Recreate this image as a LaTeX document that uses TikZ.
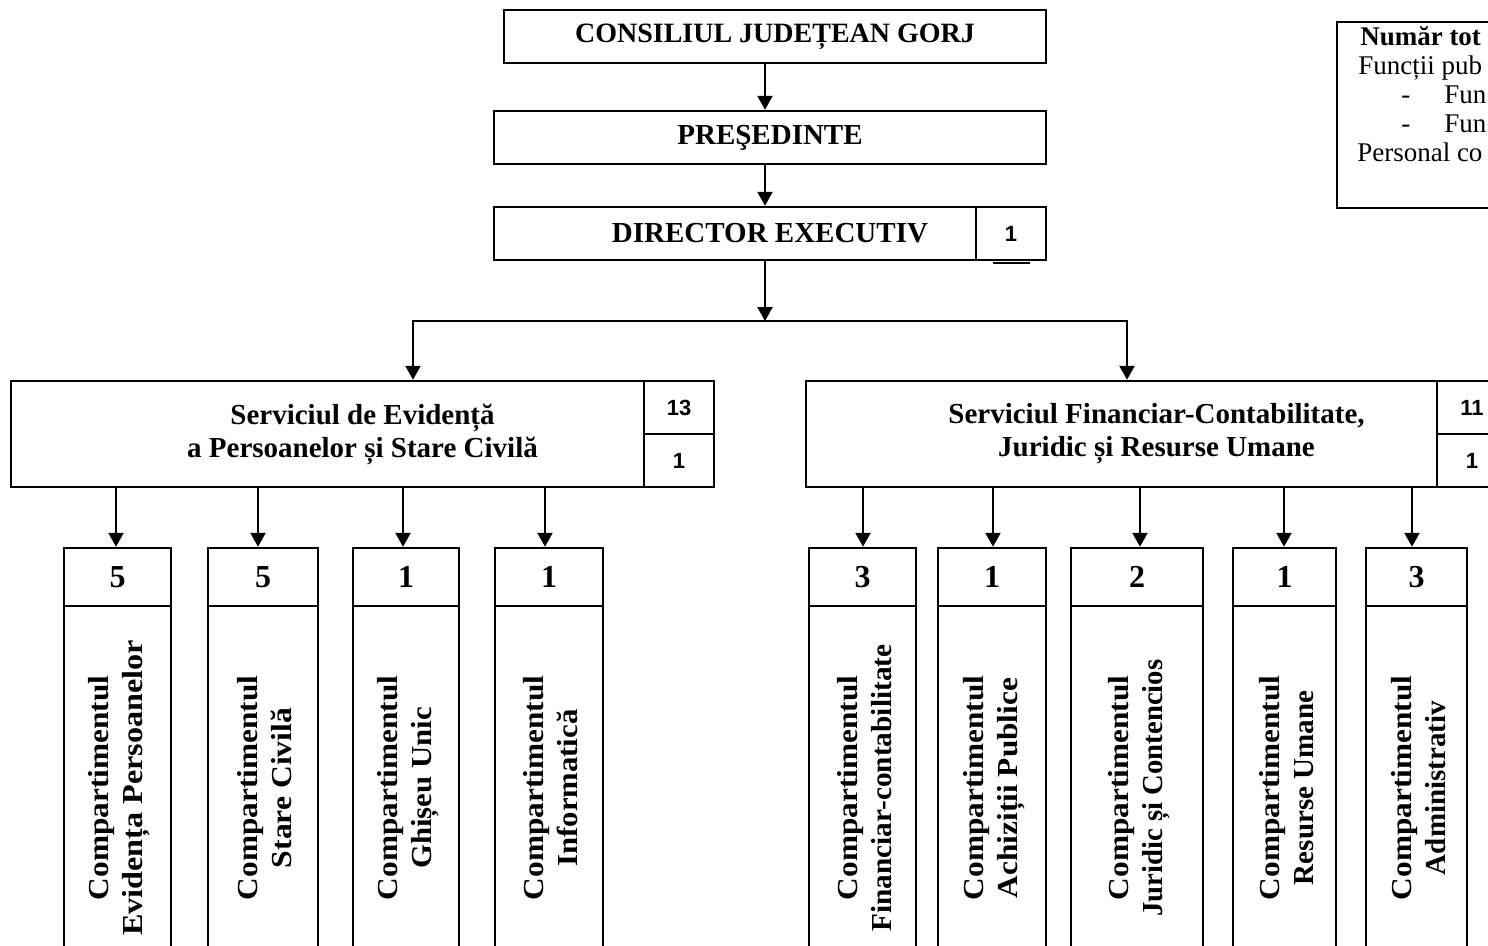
\documentclass[tikz,border=0pt]{standalone}
\usepackage{fontspec}
\usepackage{graphicx}
\setmainfont{Liberation Serif}
\newfontfamily\arialf{Liberation Sans}
\usetikzlibrary{arrows.meta}
\begin{document}
\begin{tikzpicture}[x=1pt,y=-1pt, line width=2.5pt,
  box/.style={draw, line width=2.5pt, rectangle, inner sep=0pt, align=center, font=\fontsize{29}{33}\selectfont\bfseries},
  cell/.style={draw, line width=2.5pt, rectangle, inner sep=0pt, font=\arialf\fontsize{22}{26}\selectfont\bfseries},
  num/.style={draw, line width=2.5pt, rectangle, inner sep=0pt, font=\fontsize{32}{36}\selectfont\bfseries},
  body/.style={draw, line width=2.5pt, rectangle, inner sep=0pt},
  vlab/.style={rotate=90, align=center, inner sep=0pt, font=\fontsize{29}{34}\selectfont\bfseries},
  arr/.style={-{Triangle[length=14pt,width=15pt]}, line width=2.5pt},
  leg/.style={anchor=base west, inner sep=0pt, font=\fontsize{27}{31}\selectfont}]
\useasboundingbox (0,0) rectangle (1488,945);
\fill[white] (0,0) rectangle (1488,945);
\clip (0,0) rectangle (1488,945);

% top hierarchy
\node[box, minimum width=542pt, minimum height=53pt, font=\fontsize{28}{33}\selectfont\bfseries] (cj) at (775,36.5) {CONSILIUL JUDEȚEAN GORJ};
\node[box, minimum width=552pt, minimum height=53pt] (pres) at (770,137.5) {PREŞEDINTE};
\node[box, minimum width=552pt, minimum height=53pt] (dir) at (770,233.5) {DIRECTOR EXECUTIV};
\node[cell, minimum width=70pt, minimum height=53pt] (dirc) at (1011,233.5) {1};
\draw (993,263) -- (1030,263);

\coordinate (ax) at (765,0);
\coordinate (hub) at (765,321);
\coordinate (hl) at (413,321);
\coordinate (hr) at (1127,321);
\draw[arr] (cj.south -| ax) -- (pres.north -| ax);
\draw[arr] (pres.south -| ax) -- (dir.north -| ax);
\draw[arr] (dir.south -| ax) -- (hub);

% services
\node[box, minimum width=703pt, minimum height=106pt] (svL) at (362.5,434) {Serviciul de Evidență\\a Persoanelor și Stare Civilă};
\node[cell, minimum width=70pt, minimum height=53pt] (svLa) at (679,407.5) {13};
\node[cell, minimum width=70pt, minimum height=53pt] (svLb) at (679,460.5) {1};
\node[box, minimum width=701pt, minimum height=106pt] (svR) at (1156.5,434) {Serviciul Financiar-Contabilitate,\\Juridic și Resurse Umane};
\node[cell, minimum width=70pt, minimum height=53pt] (svRa) at (1472,407.5) {11};
\node[cell, minimum width=70pt, minimum height=53pt] (svRb) at (1472,460.5) {1};

\draw[arr, line join=miter] (hub) -- (hl) -- (svL.north -| hl);
\draw[arr, line join=miter] (hub) -- (hr) -- (svR.north -| hr);

% compartments
\foreach \n/\l/\r/\a/\v/\s/\f/\t in {
  1/64/171/116/5/svL/1.11/{Evidența Persoanelor},
  2/208/318/258/5/svL/1.09/{Stare Civilă},
  3/353/459/403/1/svL/1.06/{Ghișeu Unic},
  4/495/603/545/1/svL/1.06/{Informatică},
  5/809/916/863/3/svR/1.01/{Financiar-contabilitate},
  6/938/1046/993/1/svR/1.08/{Achiziții Publice},
  7/1071/1203/1140/2/svR/0.99/{Juridic și Contencios},
  8/1233/1336/1284/1/svR/1.0/{Resurse Umane},
  9/1366/1467/1412/3/svR/1.0/{Administrativ}}{
  \pgfmathsetmacro\c{(\l+\r)/2}
  \pgfmathsetmacro\w{\r-\l}
  \node[num, minimum width=\w pt, minimum height=58pt] (n\n) at (\c,577) {\v};
  \node[body, minimum width=\w pt, minimum height=360pt] (b\n) at (\c,786) {};
  \node[vlab] (t\n) at (\c+2,788) {\scalebox{1.08}[1]{Compartimentul}\\\scalebox{\f}[1]{\t}};
  \coordinate (k\n) at (\a,0);
  \draw[arr] (\s.south -| k\n) -- (n\n.north -| k\n);
}

% legend
\node[draw, line width=2.5pt, rectangle, inner sep=0pt, minimum width=180pt, minimum height=186pt] (lg) at (1427,115) {};
\node[leg, font=\fontsize{27}{31}\selectfont\bfseries] (l1) at (1359,45) {Număr tot};
\node[leg] (l2) at (1357,74) {Funcții pub};
\node[leg] (l3a) at (1400,103) {-};
\node[leg] (l3b) at (1443,103) {Fun};
\node[leg] (l4a) at (1400,132) {-};
\node[leg] (l4b) at (1443,132) {Fun};
\node[leg] (l5) at (1356,161) {Personal co};
\end{tikzpicture}
\end{document}
